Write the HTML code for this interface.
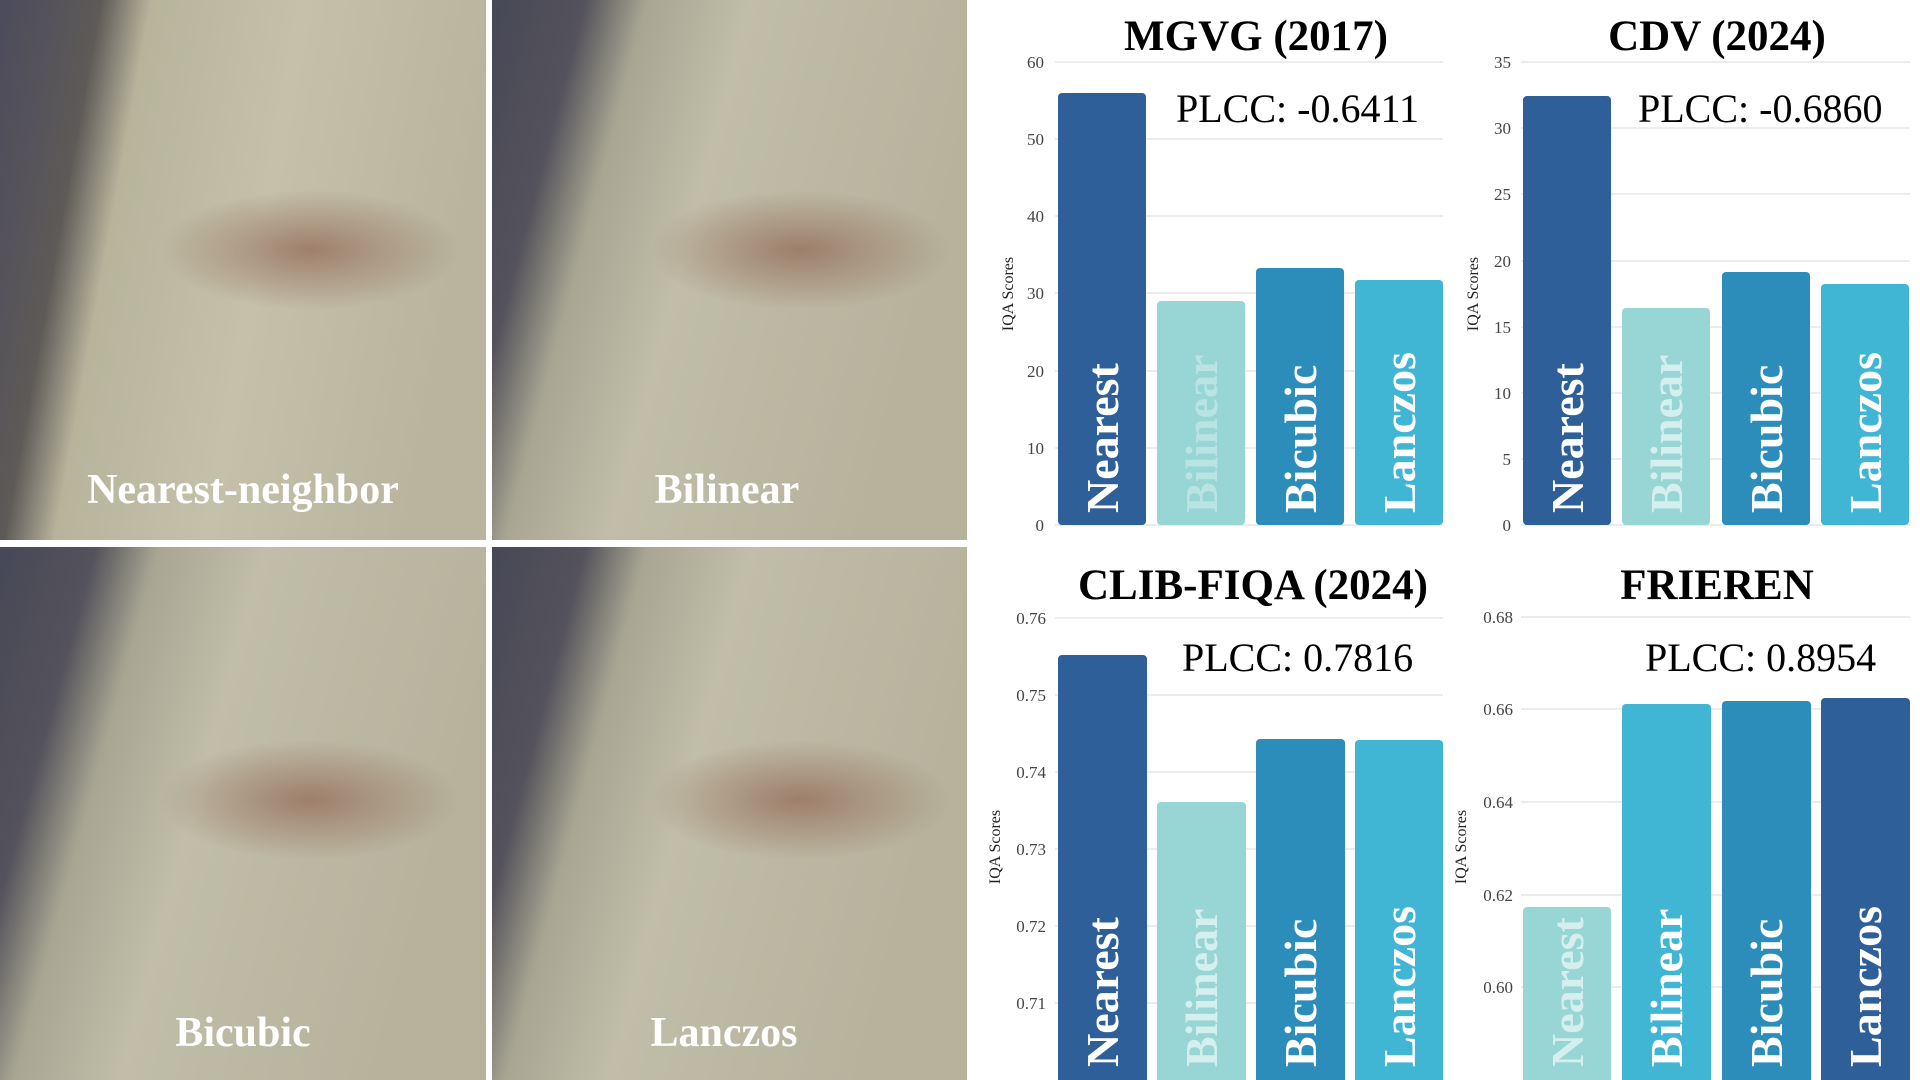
<!DOCTYPE html>
<html><head><meta charset="utf-8"><style>
html,body{margin:0;padding:0;background:#fff;width:1920px;height:1080px;overflow:hidden}
svg{display:block}
text{font-family:"Liberation Serif",serif}
.t{font-size:17px;fill:#444}
.ti{font-size:43px;font-weight:bold;fill:#000}
.p{font-size:40px;fill:#000}
.y{font-size:16px;fill:#222}
.bl{font-size:46px;font-weight:bold;fill:#fff}
.ph{font-size:42px;font-weight:bold;fill:#fff}
.g{stroke:#e6e6e6;stroke-width:1.5}
</style></head><body>
<svg width="1920" height="1080" viewBox="0 0 1920 1080" xmlns="http://www.w3.org/2000/svg">
<defs>
<linearGradient id="g1" x1="0" y1="0" x2="1" y2="0.2">
<stop offset="0" stop-color="#4c4b5c"/><stop offset="0.2" stop-color="#5e5a58"/><stop offset="0.3" stop-color="#b7b49c"/><stop offset="0.6" stop-color="#c4c0aa"/><stop offset="1" stop-color="#b8b49e"/></linearGradient>
<linearGradient id="g2" x1="0" y1="0" x2="1" y2="0.3">
<stop offset="0" stop-color="#474858"/><stop offset="0.18" stop-color="#54525a"/><stop offset="0.3" stop-color="#a8a692"/><stop offset="0.5" stop-color="#c0bda8"/><stop offset="1" stop-color="#b6b29c"/></linearGradient>
<radialGradient id="eye" cx="0.5" cy="0.5" r="0.5"><stop offset="0" stop-color="#96705c" stop-opacity="0.8"/><stop offset="1" stop-color="#96705c" stop-opacity="0"/></radialGradient>
</defs>
<!-- photo panels -->
<rect x="0" y="0" width="967" height="1080" fill="#fff"/>
<rect x="0" y="0" width="486" height="540" fill="url(#g1)"/>
<rect x="492" y="0" width="475" height="540" fill="url(#g2)"/>
<rect x="0" y="547" width="486" height="533" fill="url(#g2)"/>
<rect x="492" y="547" width="475" height="533" fill="url(#g2)"/>
<ellipse cx="310" cy="250" rx="150" ry="60" fill="url(#eye)"/>
<ellipse cx="800" cy="250" rx="150" ry="60" fill="url(#eye)"/>
<ellipse cx="310" cy="800" rx="150" ry="60" fill="url(#eye)"/>
<ellipse cx="800" cy="800" rx="150" ry="60" fill="url(#eye)"/>
<text class="ph" x="243" y="503" text-anchor="middle">Nearest-neighbor</text>
<text class="ph" x="727" y="503" text-anchor="middle">Bilinear</text>
<text class="ph" x="243" y="1046" text-anchor="middle">Bicubic</text>
<text class="ph" x="724" y="1046" text-anchor="middle">Lanczos</text>

<!-- MGVG -->
<g>
<line class="g" x1="1055" x2="1443" y1="525" y2="525"/><line class="g" x1="1055" x2="1443" y1="448" y2="448"/><line class="g" x1="1055" x2="1443" y1="371" y2="371"/><line class="g" x1="1055" x2="1443" y1="293" y2="293"/><line class="g" x1="1055" x2="1443" y1="216" y2="216"/><line class="g" x1="1055" x2="1443" y1="139" y2="139"/><line class="g" x1="1055" x2="1443" y1="62" y2="62"/>
<g class="t" text-anchor="end"><text x="1044" y="531">0</text><text x="1044" y="454">10</text><text x="1044" y="377">20</text><text x="1044" y="299">30</text><text x="1044" y="222">40</text><text x="1044" y="145">50</text><text x="1044" y="68">60</text></g>
<text class="y" transform="translate(1013,294) rotate(-90)" text-anchor="middle">IQA Scores</text>
<text class="ti" x="1256" y="50" text-anchor="middle">MGVG (2017)</text>
<rect x="1058" y="93" width="88" height="432" rx="4" fill="#2e5f98"/>
<rect x="1157" y="301" width="88" height="224" rx="4" fill="#98d6d6"/>
<rect x="1256" y="268" width="88" height="257" rx="4" fill="#2d8dba"/>
<rect x="1355" y="280" width="88" height="245" rx="4" fill="#41b5d4"/>
<text class="p" x="1176" y="122">PLCC: -0.6411</text>
<text class="bl" transform="translate(1118,513) rotate(-90)">Nearest</text>
<text class="bl" fill-opacity="0.55" transform="translate(1217,513) rotate(-90)" style="opacity:.6">Bilinear</text>
<text class="bl" transform="translate(1316,513) rotate(-90)">Bicubic</text>
<text class="bl" transform="translate(1415,513) rotate(-90)">Lanczos</text>
</g>

<!-- CDV -->
<g>
<line class="g" x1="1521" x2="1910" y1="525" y2="525"/><line class="g" x1="1521" x2="1910" y1="459" y2="459"/><line class="g" x1="1521" x2="1910" y1="393" y2="393"/><line class="g" x1="1521" x2="1910" y1="327" y2="327"/><line class="g" x1="1521" x2="1910" y1="261" y2="261"/><line class="g" x1="1521" x2="1910" y1="194" y2="194"/><line class="g" x1="1521" x2="1910" y1="128" y2="128"/><line class="g" x1="1521" x2="1910" y1="62" y2="62"/>
<g class="t" text-anchor="end"><text x="1511" y="531">0</text><text x="1511" y="465">5</text><text x="1511" y="399">10</text><text x="1511" y="333">15</text><text x="1511" y="267">20</text><text x="1511" y="200">25</text><text x="1511" y="134">30</text><text x="1511" y="68">35</text></g>
<text class="y" transform="translate(1478,294) rotate(-90)" text-anchor="middle">IQA Scores</text>
<text class="ti" x="1717" y="50" text-anchor="middle">CDV (2024)</text>
<rect x="1523" y="96" width="88" height="429" rx="4" fill="#2e5f98"/>
<rect x="1622" y="308" width="88" height="217" rx="4" fill="#98d6d6"/>
<rect x="1722" y="272" width="88" height="253" rx="4" fill="#2d8dba"/>
<rect x="1821" y="284" width="88" height="241" rx="4" fill="#41b5d4"/>
<text class="p" x="1638" y="122">PLCC: -0.6860</text>
<text class="bl" transform="translate(1583,513) rotate(-90)">Nearest</text>
<text class="bl" transform="translate(1682,513) rotate(-90)" style="opacity:.6">Bilinear</text>
<text class="bl" transform="translate(1782,513) rotate(-90)">Bicubic</text>
<text class="bl" transform="translate(1881,513) rotate(-90)">Lanczos</text>
</g>

<!-- CLIB-FIQA -->
<g>
<line class="g" x1="1055" x2="1443" y1="1003" y2="1003"/><line class="g" x1="1055" x2="1443" y1="926" y2="926"/><line class="g" x1="1055" x2="1443" y1="849" y2="849"/><line class="g" x1="1055" x2="1443" y1="772" y2="772"/><line class="g" x1="1055" x2="1443" y1="695" y2="695"/><line class="g" x1="1055" x2="1443" y1="618" y2="618"/>
<g class="t" text-anchor="end"><text x="1046" y="1009">0.71</text><text x="1046" y="932">0.72</text><text x="1046" y="855">0.73</text><text x="1046" y="778">0.74</text><text x="1046" y="701">0.75</text><text x="1046" y="624">0.76</text></g>
<text class="y" transform="translate(1000,847) rotate(-90)" text-anchor="middle">IQA Scores</text>
<text class="ti" x="1253" y="599" text-anchor="middle">CLIB-FIQA (2024)</text>
<rect x="1058" y="655" width="89" height="430" rx="4" fill="#2e5f98"/>
<rect x="1157" y="802" width="89" height="283" rx="4" fill="#98d6d6"/>
<rect x="1256" y="739" width="89" height="346" rx="4" fill="#2d8dba"/>
<rect x="1355" y="740" width="88" height="345" rx="4" fill="#41b5d4"/>
<text class="p" x="1182" y="671">PLCC: 0.7816</text>
<text class="bl" transform="translate(1118,1067) rotate(-90)">Nearest</text>
<text class="bl" transform="translate(1217,1067) rotate(-90)" style="opacity:.6">Bilinear</text>
<text class="bl" transform="translate(1316,1067) rotate(-90)">Bicubic</text>
<text class="bl" transform="translate(1415,1067) rotate(-90)">Lanczos</text>
</g>

<!-- FRIEREN -->
<g>
<line class="g" x1="1521" x2="1910" y1="987" y2="987"/><line class="g" x1="1521" x2="1910" y1="895" y2="895"/><line class="g" x1="1521" x2="1910" y1="802" y2="802"/><line class="g" x1="1521" x2="1910" y1="709" y2="709"/><line class="g" x1="1521" x2="1910" y1="617" y2="617"/>
<g class="t" text-anchor="end"><text x="1513" y="993">0.60</text><text x="1513" y="901">0.62</text><text x="1513" y="808">0.64</text><text x="1513" y="715">0.66</text><text x="1513" y="623">0.68</text></g>
<text class="y" transform="translate(1466,847) rotate(-90)" text-anchor="middle">IQA Scores</text>
<text class="ti" x="1717" y="599" text-anchor="middle">FRIEREN</text>
<rect x="1523" y="907" width="88" height="178" rx="4" fill="#98d6d6"/>
<rect x="1622" y="704" width="89" height="381" rx="4" fill="#41b5d4"/>
<rect x="1722" y="701" width="89" height="384" rx="4" fill="#2d8dba"/>
<rect x="1821" y="698" width="89" height="387" rx="4" fill="#2e5f98"/>
<text class="p" x="1645" y="671">PLCC: 0.8954</text>
<text class="bl" transform="translate(1583,1067) rotate(-90)" style="opacity:.6">Nearest</text>
<text class="bl" transform="translate(1682,1067) rotate(-90)">Bilinear</text>
<text class="bl" transform="translate(1782,1067) rotate(-90)">Bicubic</text>
<text class="bl" transform="translate(1881,1067) rotate(-90)">Lanczos</text>
</g>
</svg>
</body></html>
